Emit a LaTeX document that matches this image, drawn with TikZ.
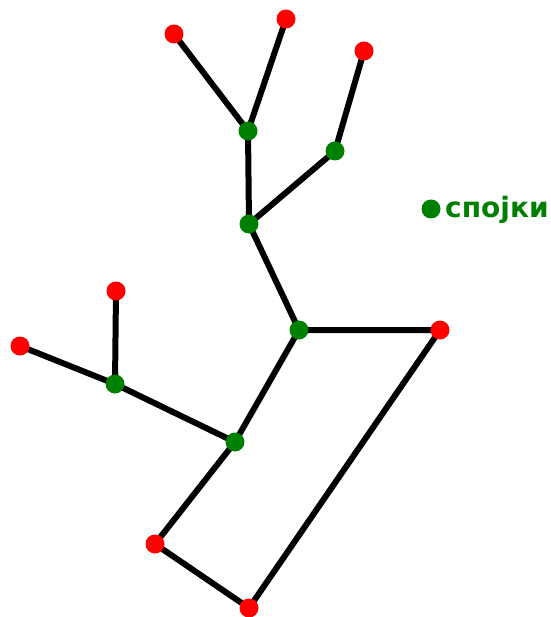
\documentclass[tikz,border=0pt]{standalone}
\usepackage{fontspec}
\setmainfont{DejaVu Sans}
\definecolor{jgreen}{RGB}{0,128,0}
\definecolor{jred}{RGB}{255,0,0}
\begin{document}
\begin{tikzpicture}[x=1pt,y=-1pt,
  edge/.style={line width=6pt,black},
  leaf/.style={circle,fill=jred,inner sep=0pt,minimum size=19pt},
  joint/.style={circle,fill=jgreen,inner sep=0pt,minimum size=19pt},
  lbl/.style={text=jgreen,font=\fontsize{28}{32}\selectfont\bfseries,inner sep=0pt,anchor=base west}]
\useasboundingbox (0,0) rectangle (550,617);
\coordinate (r1) at (174,34);
\coordinate (r2) at (286,19);
\coordinate (r3) at (364,51);
\coordinate (r4) at (116,291);
\coordinate (r5) at (20,346);
\coordinate (r6) at (440,330);
\coordinate (r7) at (155,544);
\coordinate (r8) at (249,608);
\coordinate (g1) at (248,131);
\coordinate (g2) at (335,151);
\coordinate (g3) at (249,224);
\coordinate (g4) at (299,330);
\coordinate (g5) at (115,384);
\coordinate (g6) at (235,442);
\draw[edge] (r1) -- (g1) (r2) -- (g1) (g1) -- (g3) (r3) -- (g2) (g2) -- (g3)
  (g3) -- (g4) (g4) -- (r6) (r6) -- (r8) (r8) -- (r7) (r7) -- (g6) (g6) -- (g4)
  (g6) -- (g5) (g5) -- (r4) (g5) -- (r5);
\foreach \n in {r1,r2,r3,r4,r5,r6,r7,r8} \node[leaf] (n\n) at (\n) {};
\foreach \n in {g1,g2,g3,g4,g5,g6} \node[joint] (n\n) at (\n) {};
\node[joint] (key) at (431,209) {};
\node[lbl] (keytext) at (445,218) {спојки};
\end{tikzpicture}
\end{document}
